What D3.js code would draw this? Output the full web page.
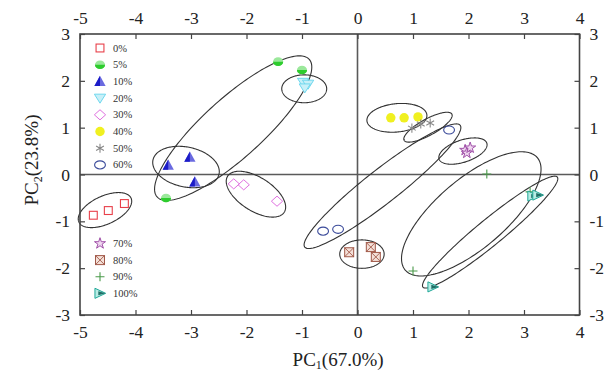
<!DOCTYPE html>
<html>
<head>
<meta charset="utf-8">
<script src="https://d3js.org/d3.v7.min.js"></script>
<style>
  html, body { margin: 0; padding: 0; background: #fff; }
  svg { display: block; font-family: 'Liberation Serif', 'Times New Roman', serif; }
</style>
<title>PCA</title>
</head>
<body>
<script>
// groups in legend order
var groups = ["0%", "5%", "10%", "20%", "30%", "40%", "50%", "60%", "70%", "80%", "90%", "100%"];

// PC1 / PC2 scores, three replicates per group
var pc1 = [
  [-4.76, -4.49, -4.20],
  [-1.43, -1.00, -3.45],
  [-3.41, -3.02, -2.93],
  [-0.98, -0.89, -0.95],
  [-2.23, -2.05, -1.45],
  [0.60, 0.84, 1.09],
  [0.98, 1.14, 1.31],
  [-0.62, -0.35, 1.65],
  [1.94, 1.97, 2.03],
  [-0.15, 0.24, 0.33],
  [1.00, 2.33, 3.11],
  [3.16, 3.25, 1.36]
];
var pc2 = [
  [-0.87, -0.77, -0.62],
  [2.41, 2.23, -0.50],
  [0.20, 0.37, -0.16],
  [1.97, 1.93, 1.85],
  [-0.20, -0.22, -0.57],
  [1.21, 1.21, 1.23],
  [0.99, 1.08, 1.10],
  [-1.21, -1.17, 0.95],
  [0.52, 0.46, 0.57],
  [-1.66, -1.55, -1.76],
  [-2.06, 0.01, -0.37],
  [-0.46, -0.44, -2.40]
];

// confidence ellipses: centre, half major axis (data units), minor/major ratio
var ellCx = [-4.55, -2.24, -3.09, -0.96, -1.83, 0.71, 1.27, 0.45, 1.90, 0.08, 2.05, 2.39];
var ellCy = [-0.76, 0.99, 0.16, 1.83, -0.42, 1.21, 1.01, -0.25, 0.50, -1.70, -0.84, -1.23];
var ellDx = [0.47, 1.37, 0.595, 0.405, 0.51, 0.54, 0.43, 1.40, 0.43, 0.40, 1.19, 1.21];
var ellDy = [0.256, 1.47, -0.15, 0, -0.385, 0.064, 0.28, 1.30, 0.17, 0, 1.20, 1.175];
var ellR = [0.49, 0.29, 0.59, 0.62, 0.5, 0.47, 0.3, 0.17, 0.44, 0.64, 0.40, 0.15];

var xTicks = [-5, -4, -3, -2, -1, 0, 1, 2, 3, 4];
var yTicks = [-3, -2, -1, 0, 1, 2, 3];

var colors = ["#e8404a", "#2ecc2e", "#1c1cc8", "#6fd8ee", "#e070e0", "#f0f020",
              "#888888", "#3a4a9a", "#a050a8", "#a05848", "#4a9a4a", "#20a898"];

var W = 608, H = 374;
var margin = {top: 34, right: 28.5, bottom: 59, left: 80};

var svg = d3.select("body").append("svg").attr("width", W).attr("height", H);

var x = d3.scaleLinear().domain([-5, 4]).range([margin.left, W - margin.right]);
var y = d3.scaleLinear().domain([-3, 3]).range([H - margin.bottom, margin.top]);

// zero lines
svg.append("line").attr("x1", x(-5)).attr("x2", x(4)).attr("y1", y(0)).attr("y2", y(0))
  .attr("stroke", "#5a5a5a").attr("stroke-width", 1.6);
svg.append("line").attr("x1", x(0)).attr("x2", x(0)).attr("y1", y(-3)).attr("y2", y(3))
  .attr("stroke", "#5a5a5a").attr("stroke-width", 1.6);

// ellipses
var ellLine = d3.line().curve(d3.curveLinearClosed);
groups.forEach(function(g, i) {
  var cx = x(ellCx[i]), cy = y(ellCy[i]);
  var ux = x(ellCx[i] + ellDx[i]) - cx, uy = y(ellCy[i] + ellDy[i]) - cy;
  var vx = -uy * ellR[i], vy = ux * ellR[i];
  var pts = d3.range(0, 2 * Math.PI, Math.PI / 90).map(function(t) {
    return [cx + ux * Math.cos(t) + vx * Math.sin(t), cy + uy * Math.cos(t) + vy * Math.sin(t)];
  });
  svg.append("path").attr("d", ellLine(pts)).attr("fill", "none")
    .attr("stroke", "#333").attr("stroke-width", 1.1);
});

// marker drawing
function marker(sel, i, s) {
  var c = colors[i];
  var k = s / 8;
  if (i === 0) {
    sel.append("rect").attr("x", -3.5 * k).attr("y", -3.5 * k).attr("width", 7 * k).attr("height", 7 * k)
      .attr("fill", "none").attr("stroke", c).attr("stroke-width", 1.1);
  } else if (i === 1) {
    sel.append("ellipse").attr("rx", 4.5 * k).attr("ry", 3.8 * k).attr("fill", "#9be89b");
    sel.append("path").attr("d", "M" + (-4.5 * k) + ",0A" + 4.5 * k + "," + 3.8 * k + " 0 0,0 " + 4.5 * k + ",0Z").attr("fill", c);
  } else if (i === 2) {
    sel.append("path").attr("d", "M0," + (-5 * k) + "L" + 5 * k + "," + 4 * k + "L" + (-5 * k) + "," + 4 * k + "Z").attr("fill", "#6a6ae0");
    sel.append("path").attr("d", "M0," + (-5 * k) + "L0," + 4 * k + "L" + (-5 * k) + "," + 4 * k + "Z").attr("fill", c);
  } else if (i === 3) {
    sel.append("path").attr("d", "M" + (-5 * k) + "," + (-3.5 * k) + "L" + 5 * k + "," + (-3.5 * k) + "L0," + 4.5 * k + "Z")
      .attr("fill", "#c8f0f8").attr("stroke", c).attr("stroke-width", 1);
  } else if (i === 4) {
    sel.append("path").attr("d", "M0," + (-4.5 * k) + "L" + 5 * k + ",0L0," + 4.5 * k + "L" + (-5 * k) + ",0Z")
      .attr("fill", "none").attr("stroke", c).attr("stroke-width", 1);
  } else if (i === 5) {
    sel.append("path").attr("d", d3.symbol(d3.symbolCircle, 55 * k * k)()).attr("fill", c);
  } else if (i === 6) {
    sel.append("path").attr("d", d3.symbol(d3.symbolAsterisk || d3.symbolCross, 45 * k * k)())
      .attr("fill", "none").attr("stroke", c).attr("stroke-width", 1.1);
  } else if (i === 7) {
    sel.append("ellipse").attr("rx", 4.8 * k).attr("ry", 3.6 * k).attr("fill", "none").attr("stroke", c).attr("stroke-width", 1.1);
  } else if (i === 8) {
    sel.append("path").attr("d", d3.symbol(d3.symbolStar, 30 * k * k)()).attr("fill", "#f0d8f0").attr("stroke", c).attr("stroke-width", 1);
  } else if (i === 9) {
    var h = 4 * k;
    sel.append("rect").attr("x", -h).attr("y", -h).attr("width", 2 * h).attr("height", 2 * h)
      .attr("fill", "#f4e0d8").attr("stroke", c).attr("stroke-width", 1);
    sel.append("path").attr("d", "M" + (-h) + "," + (-h) + "L" + h + "," + h + "M" + h + "," + (-h) + "L" + (-h) + "," + h)
      .attr("stroke", c).attr("stroke-width", 0.9);
  } else if (i === 10) {
    sel.append("path").attr("d", "M" + (-4 * k) + ",0H" + 4 * k + "M0," + (-4 * k) + "V" + 4 * k)
      .attr("stroke", c).attr("stroke-width", 1.1);
  } else if (i === 11) {
    sel.append("path").attr("d", "M" + (-4.5 * k) + "," + (-4.5 * k) + "L" + 5 * k + ",0L" + (-4.5 * k) + "," + 4.5 * k + "Z")
      .attr("fill", "#b8ece4").attr("stroke", c).attr("stroke-width", 1);
    sel.append("path").attr("d", "M" + (-1.5 * k) + "," + (-1.8 * k) + "L" + 5 * k + ",0L" + (-1.5 * k) + "," + 1.8 * k + "Z")
      .attr("fill", "#1f6f66");
  }
}

// points
groups.forEach(function(g, i) {
  pc1[i].forEach(function(v, j) {
    var m = svg.append("g").attr("transform", "translate(" + x(v) + "," + y(pc2[i][j]) + ")");
    marker(m, i, 9);
  });
});

// frame and axes
svg.append("rect").attr("x", x(-5)).attr("y", y(3)).attr("width", x(4) - x(-5)).attr("height", y(-3) - y(3))
  .attr("fill", "none").attr("stroke", "#444").attr("stroke-width", 1.6);

var fontSize = 17.5;
var fmt = function(d) { return String(d); };   // plain hyphen minus, as in the original
var axBottom = svg.append("g").attr("transform", "translate(0," + y(-3) + ")")
  .call(d3.axisBottom(x).tickValues(xTicks).tickSize(-5).tickPadding(11).tickFormat(fmt));
var axTop = svg.append("g").attr("transform", "translate(0," + y(3) + ")")
  .call(d3.axisTop(x).tickValues(xTicks).tickSize(-5).tickPadding(10).tickFormat(fmt));
var axLeft = svg.append("g").attr("transform", "translate(" + x(-5) + ",0)")
  .call(d3.axisLeft(y).tickValues(yTicks).tickSize(-5).tickPadding(10).tickFormat(fmt));
var axRight = svg.append("g").attr("transform", "translate(" + x(4) + ",0)")
  .call(d3.axisRight(y).tickValues(yTicks).tickSize(-5).tickPadding(10).tickFormat(fmt));
[axBottom, axTop, axLeft, axRight].forEach(function(a) {
  a.select(".domain").remove();
  a.selectAll("line").attr("stroke", "#444").attr("stroke-width", 1.2);
  a.selectAll("text").attr("font-family", "'Liberation Serif', serif").attr("font-size", fontSize).attr("fill", "#222");
});

// axis titles
var xt = svg.append("text").attr("x", x(-0.35)).attr("y", 366).attr("text-anchor", "middle")
  .attr("font-size", 19).attr("fill", "#222");
xt.append("tspan").text("PC");
xt.append("tspan").attr("font-size", 12).attr("dy", 3).text("1");
xt.append("tspan").attr("dy", -3).text("(67.0%)");

var yt = svg.append("text").attr("transform", "translate(38,160) rotate(-90)")
  .attr("text-anchor", "middle").attr("font-size", 19).attr("fill", "#222");
yt.append("tspan").text("PC");
yt.append("tspan").attr("font-size", 12).attr("dy", 4).text("2");
yt.append("tspan").attr("dy", -4).text("(23.8%)");

// legends
var legTop = groups.slice(0, 8), legBot = groups.slice(8);
legTop.forEach(function(g, i) {
  var row = svg.append("g").attr("transform", "translate(100," + (48 + i * 16.7) + ")");
  marker(row, i, 9);
  row.append("text").attr("x", 13).attr("y", 3.5).attr("font-size", 10.5).attr("fill", "#333").text(g);
});
legBot.forEach(function(g, i) {
  var row = svg.append("g").attr("transform", "translate(100," + (243.5 + i * 16.6) + ")");
  marker(row, i + 8, 9);
  row.append("text").attr("x", 13).attr("y", 3.5).attr("font-size", 10.5).attr("fill", "#333").text(g);
});
</script>
</body>
</html>
